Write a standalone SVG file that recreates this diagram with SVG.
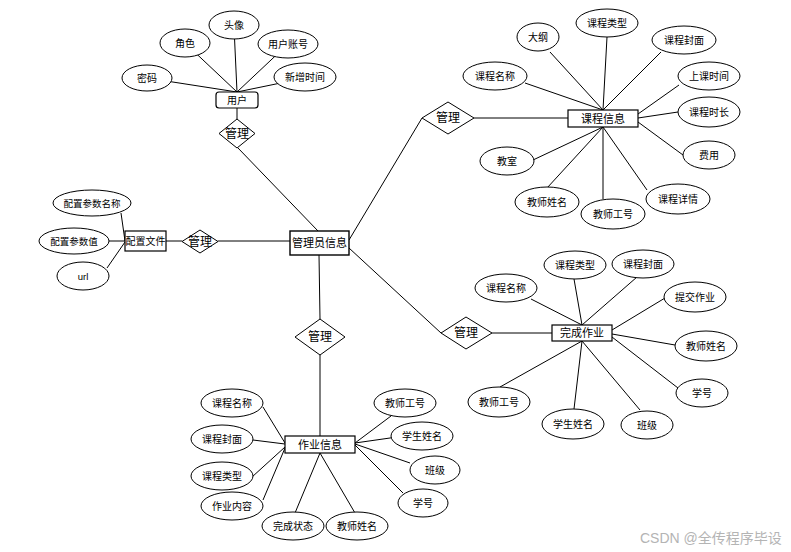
<svg xmlns="http://www.w3.org/2000/svg" width="791" height="552" viewBox="0 0 791 552">
<style>
text{font-family:"Liberation Sans","Noto Sans CJK SC",sans-serif;fill:#000;text-anchor:middle;dominant-baseline:central}
.a text{font-size:10px}
.a ellipse{fill:#fff;stroke:#000;stroke-width:1}
.e rect{fill:#fff;stroke:#000;stroke-width:1.2}
.e text{font-size:11px}
.r polygon{fill:#fff;stroke:#000;stroke-width:1}
.r text{font-size:12px}
#links line{stroke:#000;stroke-width:1}
.wm{font-size:14px;fill:#b4b4b4;text-anchor:start}
</style>
<rect width="791" height="552" fill="#fff"/>
<g id="links">
<line x1="147" y1="78" x2="237" y2="92"/>
<line x1="185" y1="43" x2="237" y2="92"/>
<line x1="234" y1="27" x2="237" y2="92"/>
<line x1="288" y1="44" x2="237" y2="92"/>
<line x1="305" y1="78" x2="237" y2="92"/>
<line x1="237" y1="108" x2="237" y2="119"/>
<line x1="238" y1="148" x2="318" y2="231"/>
<line x1="121" y1="213" x2="125" y2="241"/>
<line x1="109" y1="241" x2="125" y2="241"/>
<line x1="107" y1="268" x2="125" y2="242"/>
<line x1="166" y1="241" x2="182" y2="241"/>
<line x1="218" y1="241" x2="290" y2="241"/>
<line x1="349" y1="240" x2="422" y2="118"/>
<line x1="349" y1="248" x2="441" y2="333"/>
<line x1="319" y1="255" x2="320" y2="319"/>
<line x1="320" y1="355" x2="320" y2="436"/>
<line x1="474" y1="118" x2="568" y2="118"/>
<line x1="492" y1="333" x2="552" y2="333"/>
<line x1="550" y1="52" x2="603" y2="110"/>
<line x1="607" y1="37" x2="603" y2="110"/>
<line x1="661" y1="52" x2="603" y2="110"/>
<line x1="525" y1="83" x2="603" y2="110"/>
<line x1="679" y1="85" x2="638" y2="114"/>
<line x1="678" y1="112" x2="638" y2="118"/>
<line x1="683" y1="155" x2="638" y2="122"/>
<line x1="533" y1="160" x2="603" y2="127"/>
<line x1="547" y1="188" x2="603" y2="127"/>
<line x1="603" y1="199" x2="603" y2="127"/>
<line x1="647" y1="190" x2="603" y2="127"/>
<line x1="531" y1="299" x2="582" y2="325"/>
<line x1="574" y1="279" x2="582" y2="325"/>
<line x1="637" y1="277" x2="582" y2="325"/>
<line x1="665" y1="298" x2="612" y2="330"/>
<line x1="675" y1="345" x2="612" y2="334"/>
<line x1="678" y1="388" x2="612" y2="337"/>
<line x1="640" y1="410" x2="582" y2="341"/>
<line x1="574" y1="409" x2="582" y2="341"/>
<line x1="500" y1="387" x2="582" y2="341"/>
<line x1="263" y1="407" x2="285" y2="443"/>
<line x1="253" y1="440" x2="285" y2="444"/>
<line x1="252" y1="477" x2="285" y2="447"/>
<line x1="263" y1="500" x2="285" y2="448"/>
<line x1="295" y1="513" x2="320" y2="453"/>
<line x1="355" y1="513" x2="320" y2="453"/>
<line x1="391" y1="416" x2="355" y2="443"/>
<line x1="397" y1="437" x2="355" y2="443"/>
<line x1="410" y1="463" x2="355" y2="444"/>
<line x1="403" y1="493" x2="355" y2="445"/>
</g>

<g id="user" class="e"><rect x="216" y="92" width="42" height="16" rx="3"/><text x="237" y="100" style="font-size:10px">用户</text></g>
<g id="admin" class="e"><rect x="290" y="231" width="59" height="24" style="stroke-width:1.4"/><text x="319.5" y="243">管理员信息</text></g>
<g id="config" class="e"><rect x="125" y="231" width="41" height="20"/><text x="145.5" y="241" style="font-size:10px">配置文件</text></g>
<g id="course" class="e"><rect x="568" y="110" width="70" height="17"/><text x="603" y="118.5">课程信息</text></g>
<g id="finish" class="e"><rect x="552" y="325" width="60" height="16"/><text x="582" y="333">完成作业</text></g>
<g id="homework" class="e"><rect x="285" y="436" width="70" height="17"/><text x="320" y="444.5">作业信息</text></g>

<g id="r_user" class="r"><polygon points="237,119 255,133.5 237,148 219,133.5"/><text x="237" y="133.5">管理</text></g>
<g id="r_config" class="r"><polygon points="182,241.5 200,230 218,241.5 200,253"/><text x="200" y="241.5">管理</text></g>
<g id="r_course" class="r"><polygon points="422,118 448,102 474,118 448,134"/><text x="448" y="118">管理</text></g>
<g id="r_finish" class="r"><polygon points="441,333 466,317 492,333 466,349"/><text x="466" y="333">管理</text></g>
<g id="r_homework" class="r"><polygon points="295,337 320,319 345,337 320,355"/><text x="320" y="337">管理</text></g>

<g id="u_pwd" class="a"><ellipse cx="147" cy="78" rx="25" ry="13"/><text x="147" y="78">密码</text></g>
<g id="u_role" class="a"><ellipse cx="185" cy="43" rx="25" ry="14"/><text x="185" y="43">角色</text></g>
<g id="u_avatar" class="a"><ellipse cx="234" cy="25" rx="25" ry="14"/><text x="234" y="25">头像</text></g>
<g id="u_acc" class="a"><ellipse cx="288" cy="44" rx="30" ry="14"/><text x="288" y="44">用户账号</text></g>
<g id="u_time" class="a"><ellipse cx="305" cy="77" rx="31" ry="14"/><text x="305" y="77">新增时间</text></g>

<g id="c_name" class="a"><ellipse cx="92" cy="203" rx="39" ry="13"/><text x="92" y="203" style="font-size:9.5px">配置参数名称</text></g>
<g id="c_val" class="a"><ellipse cx="74" cy="241" rx="35" ry="13"/><text x="74" y="241" style="font-size:9.5px">配置参数值</text></g>
<g id="c_url" class="a"><ellipse cx="83" cy="276" rx="26" ry="14"/><text x="83" y="276" style="font-size:9.5px">url</text></g>

<g id="k_outline" class="a"><ellipse cx="538" cy="37" rx="21" ry="14"/><text x="538" y="37">大纲</text></g>
<g id="k_type" class="a"><ellipse cx="607" cy="23" rx="31" ry="14"/><text x="607" y="23">课程类型</text></g>
<g id="k_cover" class="a"><ellipse cx="684" cy="40" rx="32" ry="14"/><text x="684" y="40">课程封面</text></g>
<g id="k_name" class="a"><ellipse cx="495" cy="76" rx="32" ry="14"/><text x="495" y="76">课程名称</text></g>
<g id="k_time" class="a"><ellipse cx="709" cy="76" rx="31" ry="14"/><text x="709" y="76">上课时间</text></g>
<g id="k_dur" class="a"><ellipse cx="709" cy="112" rx="31" ry="15"/><text x="709" y="112">课程时长</text></g>
<g id="k_fee" class="a"><ellipse cx="709" cy="155" rx="26" ry="14"/><text x="709" y="155">费用</text></g>
<g id="k_room" class="a"><ellipse cx="507" cy="161" rx="27" ry="14"/><text x="507" y="161">教室</text></g>
<g id="k_tname" class="a"><ellipse cx="547" cy="202" rx="32" ry="15"/><text x="547" y="202">教师姓名</text></g>
<g id="k_tno" class="a"><ellipse cx="613" cy="214" rx="32" ry="15"/><text x="613" y="214">教师工号</text></g>
<g id="k_detail" class="a"><ellipse cx="678" cy="199" rx="32" ry="15"/><text x="678" y="199">课程详情</text></g>

<g id="f_name" class="a"><ellipse cx="506" cy="288" rx="31" ry="14"/><text x="506" y="288">课程名称</text></g>
<g id="f_type" class="a"><ellipse cx="575" cy="265" rx="31" ry="14"/><text x="575" y="265">课程类型</text></g>
<g id="f_cover" class="a"><ellipse cx="643" cy="264" rx="31" ry="14"/><text x="643" y="264">课程封面</text></g>
<g id="f_submit" class="a"><ellipse cx="695" cy="297" rx="31" ry="15"/><text x="695" y="297">提交作业</text></g>
<g id="f_tname" class="a"><ellipse cx="706" cy="346" rx="31" ry="15"/><text x="706" y="346">教师姓名</text></g>
<g id="f_sno" class="a"><ellipse cx="702" cy="393" rx="26" ry="14"/><text x="702" y="393">学号</text></g>
<g id="f_class" class="a"><ellipse cx="647" cy="425" rx="26" ry="14"/><text x="647" y="425">班级</text></g>
<g id="f_sname" class="a"><ellipse cx="573" cy="424" rx="31" ry="15"/><text x="573" y="424">学生姓名</text></g>
<g id="f_tno" class="a"><ellipse cx="499" cy="402" rx="31" ry="15"/><text x="499" y="402">教师工号</text></g>

<g id="h_name" class="a"><ellipse cx="232" cy="403" rx="31" ry="14"/><text x="232" y="403">课程名称</text></g>
<g id="h_cover" class="a"><ellipse cx="222" cy="439" rx="31" ry="14"/><text x="222" y="439">课程封面</text></g>
<g id="h_type" class="a"><ellipse cx="222" cy="476" rx="31" ry="14"/><text x="222" y="476">课程类型</text></g>
<g id="h_content" class="a"><ellipse cx="232" cy="506" rx="31" ry="14"/><text x="232" y="506">作业内容</text></g>
<g id="h_status" class="a"><ellipse cx="293" cy="526" rx="31" ry="14"/><text x="293" y="526">完成状态</text></g>
<g id="h_tname" class="a"><ellipse cx="357" cy="526" rx="31" ry="14"/><text x="357" y="526">教师姓名</text></g>
<g id="h_tno" class="a"><ellipse cx="405" cy="403" rx="31" ry="14"/><text x="405" y="403">教师工号</text></g>
<g id="h_sname" class="a"><ellipse cx="422" cy="436" rx="31" ry="14"/><text x="422" y="436">学生姓名</text></g>
<g id="h_class" class="a"><ellipse cx="435" cy="470" rx="25" ry="14"/><text x="435" y="470">班级</text></g>
<g id="h_sno" class="a"><ellipse cx="423" cy="503" rx="25" ry="14"/><text x="423" y="503">学号</text></g>

<text class="wm" x="640" y="538">CSDN @全传程序毕设</text>
</svg>
